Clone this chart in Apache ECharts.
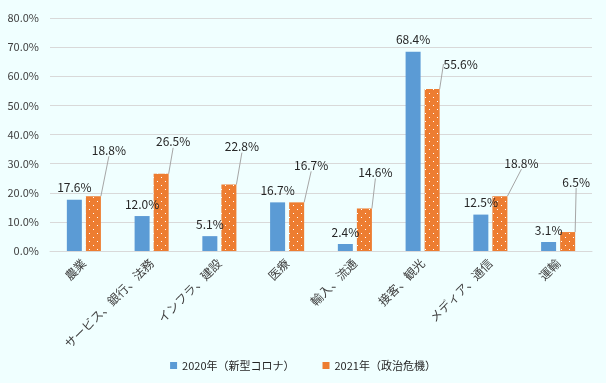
<!DOCTYPE html>
<html>
<head>
<meta charset="utf-8">
<script src="https://cdn.jsdelivr.net/npm/echarts@6/dist/echarts.min.js"></script>
<style>
html,body{margin:0;padding:0;background:#F0FFFF;}
#chart{width:606px;height:383px;}
</style>
</head>
<body>
<div id="chart"></div>
<script>
const categories = ['農業','サービス、銀行、法務','インフラ、建設','医療','輸入、流通','接客、観光','メディア、通信','運輸'];
const seriesNames = ['2020年（新型コロナ）','2021年（政治危機）'];
const values2020 = [17.6, 12.0, 5.1, 16.7, 2.4, 68.4, 12.5, 3.1];
const values2021 = [18.8, 26.5, 22.8, 16.7, 14.6, 55.6, 18.8, 6.5];
const yMin = 0, yMax = 80, yStep = 10;

// label displacement (layout only) for the 2021 series labels
const labelShift2021 = [[15.5,-35],[12,-21],[13,-27],[14.5,-26],[11,-25],[28.5,-14],[21.5,-22],[8.5,-39]];

const FONT = '"Noto Sans CJK JP", "Noto Sans", sans-serif';
const BLUE = '#5B9BD5', ORANGE = '#ED7D31';

const pc = document.createElement('canvas');
pc.width = 8; pc.height = 8;
const px = pc.getContext('2d');
px.fillStyle = ORANGE; px.fillRect(0,0,8,8);
px.fillStyle = '#FFFFFF'; px.fillRect(1,1,1,1); px.fillRect(5,5,1,1);

const fmt = p => Number(p.value).toFixed(1) + '%';

const chart = echarts.init(document.getElementById('chart'), null, {renderer:'canvas'});
chart.setOption({
  backgroundColor: '#F0FFFF',
  animation: false,
  textStyle: {fontFamily: FONT},
  grid: {left: 50, right: 14, top: 18, bottom: 132, containLabel: false},
  legend: {
    top: 355, left: 'center',
    itemWidth: 7, itemHeight: 7, itemGap: 28,
    icon: 'rect',
    textStyle: {fontSize: 11, color: '#262626', fontFamily: FONT},
    data: [
      {name: seriesNames[0], itemStyle: {color: BLUE}},
      {name: seriesNames[1], itemStyle: {color: ORANGE}}
    ]
  },
  xAxis: {
    type: 'category',
    data: categories,
    axisLine: {lineStyle: {color: '#D9D9D9', width: 1}},
    axisTick: {show: false},
    axisLabel: {rotate: 45, margin: 10, fontSize: 12, color: '#404040', fontFamily: FONT, interval: 0}
  },
  yAxis: {
    type: 'value',
    min: yMin, max: yMax, interval: yStep,
    axisLine: {show: false},
    axisTick: {show: false},
    splitLine: {lineStyle: {color: '#D9D9D9', width: 1}},
    axisLabel: {margin: 11, fontSize: 11, color: '#404040', fontFamily: FONT,
      formatter: v => v.toFixed(1) + '%'}
  },
  series: [
    {
      name: seriesNames[0], type: 'bar', data: values2020,
      barWidth: 15, barGap: '27%',
      itemStyle: {color: BLUE},
      label: {show: true, position: 'top', distance: 6, fontSize: 12, color: '#262626', fontFamily: FONT, formatter: fmt}
    },
    {
      name: seriesNames[1], type: 'bar', data: values2021,
      barWidth: 15,
      itemStyle: {color: {image: pc, repeat: 'repeat'}},
      label: {show: true, position: 'top', distance: 5, fontSize: 12, color: '#262626', fontFamily: FONT, formatter: fmt},
      labelLine: {show: true, lineStyle: {color: '#A6A6A6', width: 1}},
      labelLayout: p => ({dx: labelShift2021[p.dataIndex][0], dy: labelShift2021[p.dataIndex][1]})
    }
  ]
});
</script>
</body>
</html>
